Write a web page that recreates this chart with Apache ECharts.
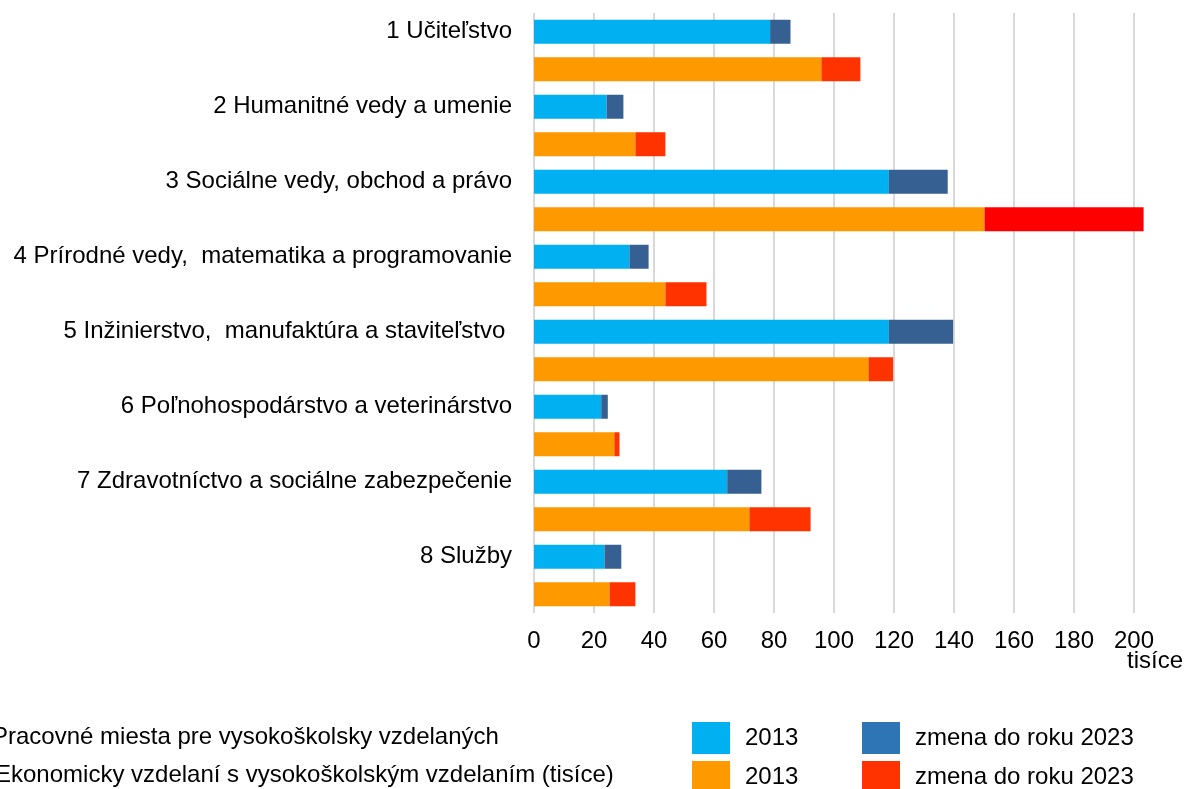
<!DOCTYPE html>
<html>
<head>
<meta charset="utf-8">
<script src="https://cdn.jsdelivr.net/npm/echarts@6/dist/echarts.min.js"></script>
<style>
    html, body {margin:0;padding:0;background:#ffffff;}
    #chart {width:1191px;height:789px;}
</style>
</head>
<body>
<div id="chart"></div>
<script>
    // odbory vzdelania (kategorie)
    var odbory = [
        '1 Učiteľstvo',
        '2 Humanitné vedy a umenie',
        '3 Sociálne vedy, obchod a právo',
        '4 Prírodné vedy,  matematika a programovanie',
        '5 Inžinierstvo,  manufaktúra a staviteľstvo ',
        '6 Poľnohospodárstvo a veterinárstvo',
        '7 Zdravotníctvo a sociálne zabezpečenie',
        '8 Služby'
    ];
    // pracovne miesta pre VS vzdelanych (tisice)
    var miesta2013 = [78.7, 24.2, 118.3, 31.8, 118.3, 22.4, 64.4, 23.5];
    var miestaZmena = [6.8, 5.6, 19.6, 6.4, 21.4, 2.2, 11.4, 5.6];
    // ekonomicky aktivni s VS vzdelanim (tisice)
    var ekon2013 = [95.8, 33.8, 150.2, 43.8, 111.5, 26.8, 71.8, 25.2];
    var ekonZmena = [13.0, 10.0, 53.0, 13.7, 8.2, 1.7, 20.4, 8.6];
    // os x
    var osMin = 0, osMax = 200, osKrok = 20;

    // kazdy odbor ma dva riadky: miesta a ekonomicky vzdelani
    var riadky = [];
    odbory.forEach(function (n) {
        riadky.push(n);
        riadky.push(n + ' (ekon.)');
    });

    function naRiadky(hodnoty, parny) {
        var out = [];
        hodnoty.forEach(function (v) {
            if (parny) { out.push(v); out.push(null); }
            else { out.push(null); out.push(v); }
        });
        return out;
    }

    var cervena = naRiadky(ekonZmena, false).map(function (v, i) {
        if (v === null) return null;
        // treti odbor ma v povodnom grafe ciste cervenu
        return i === 5 ? {value: v, itemStyle: {color: '#FF0000'}} : v;
    });

    var chart = echarts.init(document.getElementById('chart'));
    var font = 'Liberation Sans, Arial, sans-serif';

    function legenda(meno, farba, left, top) {
        return {
            data: [{name: meno, itemStyle: {color: farba}}],
            left: left,
            top: top,
            padding: 0,
            itemWidth: 38,
            itemHeight: 32,
            icon: 'rect',
            selectedMode: false,
            formatter: function (n) { return n.indexOf('2013') >= 0 ? '2013' : 'zmena do roku 2023'; },
            textStyle: {fontSize: 24, color: '#000', fontFamily: font, padding: [0, 0, 0, 10]}
        };
    }

    var option = {
        animation: false,
        textStyle: {fontFamily: font},
        grid: {left: 534, top: 13, width: 600, height: 600},
        xAxis: {
            type: 'value',
            min: osMin,
            max: osMax,
            interval: osKrok,
            axisLine: {show: false},
            axisTick: {show: false},
            axisLabel: {fontSize: 24, color: '#000', margin: 16, fontFamily: font},
            splitLine: {lineStyle: {color: '#d9d9d9', width: 2}}
        },
        yAxis: {
            type: 'category',
            inverse: true,
            data: riadky,
            axisLine: {show: false},
            axisTick: {show: false},
            axisLabel: {
                interval: 0,
                fontSize: 24,
                color: '#000',
                margin: 22,
                fontFamily: font,
                formatter: function (v, i) { return i % 2 === 0 ? v : ''; }
            }
        },
        legend: [
            legenda('Pracovné miesta 2013', '#00B0F0', 692, 722),
            legenda('Pracovné miesta zmena', '#2E75B6', 862, 722),
            legenda('Ekonomicky vzdelaní 2013', '#FF9900', 692, 761),
            legenda('Ekonomicky vzdelaní zmena', '#FF3300', 862, 761)
        ],
        graphic: [
            {type: 'text', left: 1127, top: 649, style: {text: 'tisíce', fill: '#000', font: '24px ' + font}},
            {type: 'text', left: -8, top: 725, style: {text: 'Pracovné miesta pre vysokoškolsky vzdelaných', fill: '#000', font: '24px ' + font}},
            {type: 'text', left: -5, top: 763, style: {text: 'Ekonomicky vzdelaní s vysokoškolským vzdelaním (tisíce)', fill: '#000', font: '24px ' + font}}
        ],
        series: [
            {name: 'Pracovné miesta 2013', type: 'bar', stack: 'spolu', barWidth: 24,
             itemStyle: {color: '#00B0F0'}, data: naRiadky(miesta2013, true)},
            {name: 'Pracovné miesta zmena', type: 'bar', stack: 'spolu', barWidth: 24,
             itemStyle: {color: '#366092'}, data: naRiadky(miestaZmena, true)},
            {name: 'Ekonomicky vzdelaní 2013', type: 'bar', stack: 'spolu', barWidth: 24,
             itemStyle: {color: '#FF9900'}, data: naRiadky(ekon2013, false)},
            {name: 'Ekonomicky vzdelaní zmena', type: 'bar', stack: 'spolu', barWidth: 24, clip: false,
             itemStyle: {color: '#FF3300'}, data: cervena}
        ]
    };
    chart.setOption(option);
</script>
</body>
</html>
